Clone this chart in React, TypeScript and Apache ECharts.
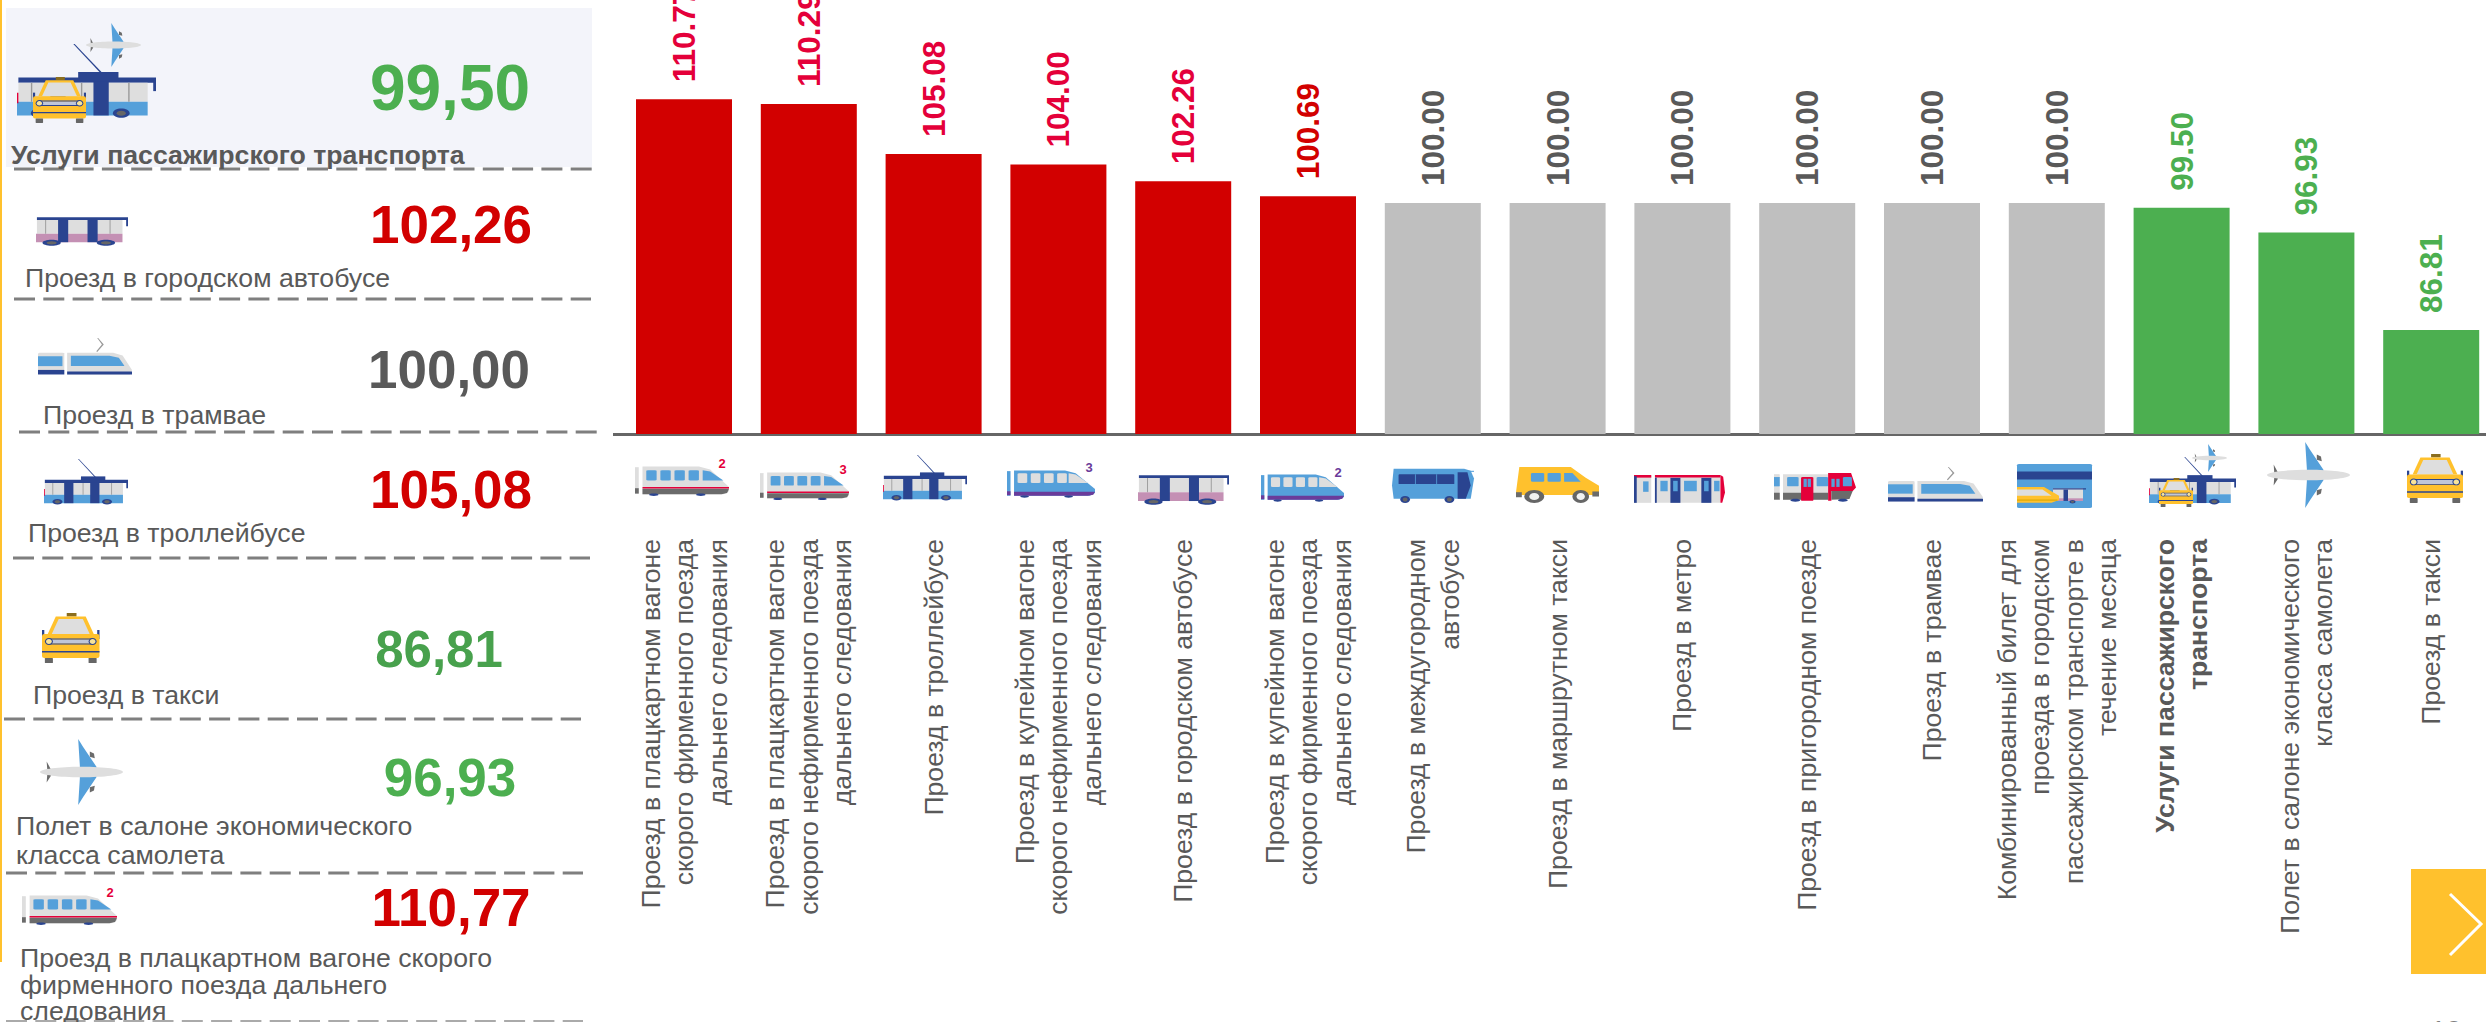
import React, { useEffect, useRef } from "react";
import * as echarts from "echarts";

// ---------- DATA ----------
const categories = [
  "Проезд в плацкартном вагоне\nскорого фирменного поезда\nдальнего следования",
  "Проезд в плацкартном вагоне\nскорого нефирменного поезда\nдальнего следования",
  "Проезд в троллейбусе",
  "Проезд в купейном вагоне\nскорого нефирменного поезда\nдальнего следования",
  "Проезд в городском автобусе",
  "Проезд в купейном вагоне\nскорого фирменного поезда\nдальнего следования",
  "Проезд в междугородном\nавтобусе",
  "Проезд в маршрутном такси",
  "Проезд в метро",
  "Проезд в пригородном поезде",
  "Проезд в трамвае",
  "Комбинированный билет для\nпроезда в городском\nпассажирском транспорте в\nтечение месяца",
  "Услуги пассажирского\nтранспорта",
  "Полет в салоне экономического\nкласса самолета",
  "Проезд в такси",
];
const values = [110.77, 110.29, 105.08, 104.0, 102.26, 100.69, 100, 100, 100, 100, 100, 100, 99.5, 96.93, 86.81];
const boldCategory = "Услуги пассажирского\nтранспорта";

const panelNames = [
  "Услуги пассажирского транспорта",
  "Проезд в городском автобусе",
  "Проезд в трамвае",
  "Проезд в троллейбусе",
  "Проезд в такси",
  "Полет в салоне экономического\nкласса самолета",
  "Проезд в плацкартном вагоне скорого\nфирменного поезда дальнего\nследования",
];
const panelValues = ["99,50", "102,26", "100,00", "105,08", "86,81", "96,93", "110,77"];
const pageNumber = "10";

// ---------- STYLE ----------
const RED = "#D20000";
const GREY = "#BFBFBF";
const GREEN = "#4CAF50";
const TEXT = "#595959";
const LABEL_RED = "#E4003A";
const FONT = '"Liberation Sans", Arial, sans-serif';
const NAVY = "#2A4490";
const BLUE = "#55A0DA";
const LIGHT = "#DEDEDE";
const YELLOW = "#FFC12D";
const DARK = "#6B6B6B";
const PURPLE = "#6A3B9A";
const PINK = "#C490B4";

const barColor = (v: number) => (v > 100 ? RED : v === 100 ? GREY : GREEN);
const labelColor = (v: number, i: number) => (v > 100 ? (i < 5 ? LABEL_RED : RED) : v === 100 ? TEXT : GREEN);

// ---------- ICON PRIMITIVES (unit box 0..100) ----------
const R = (x: number, y: number, w: number, h: number, fill: string, r = 0) => ({
  type: "rect", silent: true, shape: { x, y, width: w, height: h, r }, style: { fill },
});
const P = (points: number[][], fill: string) => ({
  type: "polygon", silent: true, shape: { points }, style: { fill },
});
const E = (cx: number, cy: number, rx: number, ry: number, fill: string) => ({
  type: "ellipse", silent: true, shape: { cx, cy, rx, ry }, style: { fill },
});
const place = (x0: number, y0: number, x1: number, y1: number, children: any[]) => ({
  type: "group", silent: true, x: x0, y: y0, scaleX: (x1 - x0) / 100, scaleY: (y1 - y0) / 100, children,
});

const wheel = (cx: number, cy: number, r: number) => [E(cx, cy, r, r, NAVY), E(cx, cy, r * 0.55, r * 0.55, "#666666")];

const trainRed = (x0: number, y0: number, x1: number, y1: number) =>
  place(x0, y0, x1, y1, [
    R(0, 4, 4, 88, LIGHT),
    R(0, 74, 4, 18, DARK),
    P([[8, 2], [68, 2], [80, 12], [100, 70], [100, 84], [94, 94], [8, 94]], LIGHT),
    P([[8, 76], [100, 76], [98, 90], [92, 94], [8, 94]], DARK),
    R(8, 70, 92, 5, "#E4003A"),
    R(12, 14, 11, 34, BLUE, 2), R(27, 14, 11, 34, BLUE, 2), R(42, 14, 11, 34, BLUE, 2), R(57, 14, 11, 34, BLUE, 2),
    P([[72, 14], [80, 18], [94, 48], [72, 48]], BLUE),
    E(20, 96, 5, 4, NAVY), E(70, 96, 5, 4, NAVY),
  ]);

const trainBlue = (x0: number, y0: number, x1: number, y1: number) =>
  place(x0, y0, x1, y1, [
    R(0, 4, 4, 88, BLUE),
    R(0, 76, 4, 14, PURPLE),
    P([[8, 2], [66, 2], [78, 12], [100, 68], [100, 82], [94, 92], [8, 92]], BLUE),
    P([[8, 78], [100, 78], [98, 88], [92, 92], [8, 92]], PURPLE),
    R(12, 12, 11, 34, LIGHT, 2), R(27, 12, 11, 34, LIGHT, 2), R(42, 12, 11, 34, LIGHT, 2), R(57, 12, 11, 34, LIGHT, 2),
    P([[70, 12], [78, 16], [92, 46], [70, 46]], LIGHT),
    E(20, 95, 5, 4, NAVY), E(70, 95, 5, 4, NAVY),
  ]);

const trolley = (x0: number, y0: number, x1: number, y1: number) =>
  place(x0, y0, x1, y1, [
    P([[40.5, 0], [41.5, 0], [62, 39], [60.5, 39]], NAVY),
    R(44, 37, 29, 8, NAVY),
    R(1, 44, 99, 7, NAVY),
    R(1, 51, 93, 25, LIGHT),
    R(0, 76, 94, 18, BLUE),
    R(0, 64, 1, 14, "#E4003A"),
    R(24, 49, 11, 45, NAVY), R(55, 49, 11, 45, NAVY),
    R(10, 51, 1, 25, "#999999"), R(46, 51, 1, 25, "#999999"), R(80, 51, 1, 25, "#999999"),
    R(98, 46, 2, 16, NAVY),
    ...wheel(16, 91, 6), ...wheel(75, 91, 6),
  ]);

const bus = (x0: number, y0: number, x1: number, y1: number) =>
  place(x0, y0, x1, y1, [
    R(1, 1, 99, 9, NAVY),
    R(1, 10, 93, 46, LIGHT),
    R(0, 56, 94, 28, PINK),
    R(24, 8, 11, 76, NAVY), R(56, 8, 11, 76, NAVY),
    R(10, 10, 1, 46, "#999999"), R(80, 10, 1, 46, "#999999"),
    R(98, 3, 2, 28, NAVY),
    ...wheel(17, 86, 10), ...wheel(76, 86, 10),
  ]);

const taxi = (x0: number, y0: number, x1: number, y1: number) =>
  place(x0, y0, x1, y1, [
    R(43, 0, 17, 7, "#8A6D1E"),
    P([[24, 7], [76, 7], [90, 42], [10, 42]], YELLOW),
    P([[29, 12], [71, 12], [83, 42], [17, 42]], LIGHT),
    R(0, 34, 4, 18, NAVY), R(96, 34, 4, 18, NAVY),
    R(0, 42, 100, 48, YELLOW, 4),
    R(12, 53, 76, 8, "#BFC6D8"), R(12, 51, 76, 2, NAVY), R(12, 61, 76, 2, NAVY),
    E(12, 57, 7, 7, NAVY), E(12, 57, 5, 5, "#F7E39A"), E(88, 57, 7, 7, NAVY), E(88, 57, 5, 5, "#F7E39A"),
    R(0, 76, 100, 3, NAVY),
    R(5, 90, 14, 10, "#666666", 1), R(81, 90, 14, 10, "#666666", 1),
  ]);

const plane = (x0: number, y0: number, x1: number, y1: number) =>
  place(x0, y0, x1, y1, [
    P([[8, 34], [13, 46], [13, 56], [8, 66], [9, 50]], DARK),
    P([[60, 19], [65, 22], [66, 29], [60, 27]], DARK),
    P([[60, 81], [65, 78], [66, 71], [60, 73]], DARK),
    P([[46, 0], [52, 12], [68, 42], [68, 58], [52, 88], [46, 100], [48, 60], [48, 40]], BLUE),
    E(50, 50, 50, 8, LIGHT),
  ]);

const van = (x0: number, y0: number, x1: number, y1: number) =>
  place(x0, y0, x1, y1, [
    P([[4, 0], [66, 0], [84, 30], [100, 52], [100, 78], [0, 78], [0, 70]], YELLOW),
    R(0, 70, 7, 14, DARK),
    R(92, 68, 8, 14, DARK),
    R(18, 17, 16, 24, BLUE, 2), R(38, 17, 16, 24, BLUE, 2),
    P([[58, 17], [68, 17], [78, 41], [58, 41]], BLUE),
    E(22, 82, 12, 18, "#666666"), E(22, 82, 6, 10, "#F2F2F2"),
    E(78, 82, 10, 18, "#666666"), E(78, 82, 5, 10, "#F2F2F2"),
  ]);

const coach = (x0: number, y0: number, x1: number, y1: number) =>
  place(x0, y0, x1, y1, [
    P([[2, 2], [88, 2], [96, 8], [100, 30], [96, 88], [2, 88], [0, 50]], BLUE),
    R(8, 18, 68, 28, NAVY, 1),
    R(28, 18, 1, 28, BLUE), R(54, 18, 1, 28, BLUE),
    P([[80, 12], [92, 12], [96, 50], [90, 88], [80, 88]], NAVY),
    R(90, 8, 10, 3, BLUE),
    E(16, 90, 6, 10, NAVY), E(16, 90, 3, 6, "#666666"),
    E(70, 90, 6, 10, NAVY), E(70, 90, 3, 6, "#666666"),
  ]);

const metro = (x0: number, y0: number, x1: number, y1: number) =>
  place(x0, y0, x1, y1, [
    R(0, 4, 19, 92, LIGHT), R(0, 0, 19, 9, "#E4003A"), R(0, 4, 3, 92, NAVY),
    R(10, 22, 6, 36, BLUE),
    R(23, 4, 72, 92, LIGHT), R(23, 0, 72, 9, "#E4003A"),
    R(23, 9, 2, 87, NAVY),
    R(40, 10, 11, 86, NAVY), R(43, 20, 5, 36, BLUE),
    R(74, 10, 11, 86, NAVY), R(77, 20, 5, 36, BLUE),
    R(29, 20, 8, 36, BLUE), R(55, 20, 14, 36, BLUE),
    R(88, 20, 6, 36, BLUE),
    P([[95, 0], [98, 6], [100, 60], [97, 96], [95, 96]], "#E4003A"),
  ]);

const suburban = (x0: number, y0: number, x1: number, y1: number) =>
  place(x0, y0, x1, y1, [
    R(0, 4, 7, 88, LIGHT), R(0, 68, 7, 24, DARK), R(0, 14, 7, 32, BLUE),
    R(11, 4, 55, 88, LIGHT), R(11, 68, 55, 24, DARK),
    R(16, 14, 14, 32, BLUE, 2), R(52, 14, 14, 32, BLUE, 2),
    R(33, 14, 15, 82, "#E4003A", 2), R(36, 20, 4, 28, BLUE), R(41, 20, 4, 28, BLUE),
    P([[66, 0], [94, 0], [100, 50], [96, 62], [70, 62], [70, 96], [66, 96]], "#E4003A"),
    P([[70, 62], [96, 62], [92, 90], [70, 92]], DARK),
    R(70, 20, 4, 28, BLUE), R(76, 20, 4, 28, BLUE),
    R(84, 14, 11, 32, BLUE, 2),
    E(26, 94, 6, 5, NAVY), E(84, 94, 6, 5, NAVY),
  ]);

const tram = (x0: number, y0: number, x1: number, y1: number) =>
  place(x0, y0, x1, y1, [
    P([[63, 0], [64, 0], [70, 17], [63, 37], [62, 35], [68, 17]], "#9A9A9A"),
    R(0, 39, 28, 48, LIGHT, 2), R(0, 48, 26, 26, BLUE), R(0, 84, 28, 12, NAVY),
    P([[31, 39], [80, 39], [90, 46], [100, 84], [98, 96], [31, 96]], LIGHT),
    P([[35, 47], [76, 47], [86, 52], [92, 74], [35, 74]], BLUE),
    R(31, 88, 69, 8, NAVY),
  ]);

const ticket = (x0: number, y0: number, x1: number, y1: number) =>
  place(x0, y0, x1, y1, [
    R(0, 0, 100, 100, BLUE, 3),
    R(0, 17, 100, 18, NAVY),
    R(48, 55, 40, 28, LIGHT), R(48, 55, 44, 3, NAVY), R(48, 78, 40, 6, PINK),
    R(62, 58, 6, 26, NAVY), ...wheel(74, 86, 4),
    P([[0, 52], [36, 52], [56, 72], [56, 82], [46, 88], [0, 88]], YELLOW),
    P([[0, 58], [34, 58], [46, 72], [0, 72]], LIGHT),
    R(0, 80, 54, 4, "#E8B010"),
  ]);

const composite = (bx: number[], tx: number[], px: number[]) => [
  trolley(bx[0], bx[1], bx[2], bx[3]),
  taxi(tx[0], tx[1], tx[2], tx[3]),
  plane(px[0], px[1], px[2], px[3]),
];

const digit = (text: string, x: number, y: number, fill: string, fontSize = 13) => ({
  type: "text", silent: true, x, y,
  style: { text, fill, font: `bold ${fontSize}px ${FONT}`, textAlign: "center", textVerticalAlign: "middle" },
});

// ---------- LAYOUT OF THE LEFT PANEL ----------
const nameLayout = [
  { x: 11, y: 155, bold: true, lh: 30 },
  { x: 25, y: 278, lh: 30 },
  { x: 43, y: 415, lh: 30 },
  { x: 28, y: 533, lh: 30 },
  { x: 33, y: 695, lh: 30 },
  { x: 16, y: 826, lh: 29 },
  { x: 20, y: 958, lh: 26.5 },
];
const valueLayout = [
  { x: 450, y: 88, size: 64, fill: GREEN },
  { x: 451, y: 224, size: 53, fill: RED },
  { x: 449, y: 369, size: 53, fill: TEXT },
  { x: 451, y: 489, size: 53, fill: RED },
  { x: 439, y: 649, size: 51, fill: "#48A14D" },
  { x: 450, y: 777, size: 53, fill: GREEN },
  { x: 451, y: 907, size: 53, fill: RED },
];
const dashLayout = [
  [14, 592, 169], [14, 591, 299], [19, 597, 432], [13, 590, 558], [4, 581, 719], [6, 583, 873], [6, 583, 1021],
];

const graphics: any[] = [
  { type: "rect", silent: true, shape: { x: 0, y: 0, width: 2, height: 962 }, style: { fill: YELLOW } },
  { type: "rect", silent: true, shape: { x: 6, y: 8, width: 586, height: 159 }, style: { fill: "#F3F4FA" } },
  ...dashLayout.map(([x1, x2, y], i) => ({
    type: "line", silent: true, shape: { x1, y1: y, x2, y2: y },
    style: { stroke: i === 6 ? "#AAAAAA" : "#7F7F7F", lineWidth: i === 6 ? 2 : 3, lineDash: [21, 8.3] },
  })),
  ...panelNames.map((text, i) => {
    const n = nameLayout[i];
    return {
      type: "text", silent: true, x: n.x, y: n.y - n.lh / 2,
      style: {
        text, fill: TEXT, font: `${n.bold ? "bold " : ""}26.7px ${FONT}`, lineHeight: n.lh,
        textAlign: "left", textVerticalAlign: "top",
      },
    };
  }),
  ...panelValues.map((text, i) => {
    const v = valueLayout[i];
    return {
      type: "text", silent: true, x: v.x, y: v.y,
      style: { text, fill: v.fill, font: `bold ${v.size}px ${FONT}`, textAlign: "center", textVerticalAlign: "middle" },
    };
  }),

  // left panel icons
  ...composite([17, 44, 156, 120], [33, 77, 86, 123], [86, 23, 141, 67]),
  bus(36, 217, 128, 247),
  tram(38, 338, 132, 376),
  trolley(44, 459, 128, 506),
  taxi(42, 613, 99.5, 663),
  plane(40, 739, 123, 805),
  trainRed(22, 895, 117, 925),
  digit("2", 110, 892, "#E4003A"),

  // icons under the axis
  trainRed(635, 466, 729, 496), digit("2", 722, 463, "#E4003A"),
  trainRed(760, 472, 849, 500), digit("3", 843, 469, "#E4003A"),
  trolley(883, 455, 967, 502),
  trainBlue(1007, 470, 1095, 498), digit("3", 1089, 467, PURPLE),
  bus(1138, 475, 1229, 506),
  trainBlue(1261, 474, 1344, 502), digit("2", 1338, 472, PURPLE),
  coach(1392, 468, 1474, 503),
  van(1516, 467, 1599, 503),
  metro(1634, 475, 1725, 504),
  suburban(1774, 473, 1856, 502),
  tram(1888, 467, 1983, 503),
  ticket(2017, 464, 2092, 508),
  ...composite([2149, 457, 2236, 506], [2159, 478, 2193, 507], [2192, 444, 2227, 472]),
  plane(2267, 442, 2350, 508),
  taxi(2407, 454, 2463, 503),

  // axis stub left of the first category band
  { type: "rect", silent: true, shape: { x: 613, y: 433, width: 10, height: 3 }, style: { fill: "#666666" } },

  // next-page arrow
  { type: "rect", silent: true, shape: { x: 2411, y: 869, width: 75, height: 105 }, style: { fill: YELLOW } },
  {
    type: "polyline", silent: true,
    shape: { points: [[2450, 894], [2481, 924], [2450, 955]] },
    style: { stroke: "#FFFFFF", lineWidth: 3, fill: "none" },
  },
  {
    type: "text", silent: true, x: 2446, y: 1016,
    style: { text: pageNumber, fill: "#7F7F7F", font: `28px ${FONT}`, textAlign: "center", textVerticalAlign: "top" },
  },
];

export default function App() {
  const ref = useRef<HTMLDivElement>(null);
  useEffect(() => {
    document.body.style.margin = "0";
    const chart = echarts.init(ref.current!, undefined, { renderer: "svg" });
    chart.setOption({
      animation: false,
      backgroundColor: "#FFFFFF",
      textStyle: { fontFamily: FONT },
      grid: { left: 621.6, top: 10.5, width: 1872, height: 423.5, containLabel: false, outerBoundsMode: "none" },
      xAxis: {
        type: "category",
        data: categories.map((value) =>
          value === boldCategory ? { value, textStyle: { fontWeight: "bold" } } : value
        ),
        axisTick: { show: false },
        axisLine: { show: true, lineStyle: { color: "#666666", width: 3 } },
        axisLabel: {
          interval: 0, rotate: 90, margin: 105, color: TEXT, fontSize: 26.6, lineHeight: 33.5,
          fontFamily: FONT, align: "right", verticalAlign: "middle",
        },
      },
      yAxis: { type: "value", min: 76, max: 120, show: false, splitLine: { show: false } },
      series: [
        {
          type: "bar",
          barWidth: 96,
          data: values.map((v, i) => ({
            value: v,
            itemStyle: { color: barColor(v) },
            label: { color: labelColor(v, i) },
          })),
          label: {
            show: true, position: "top", distance: 17, rotate: 90, align: "left", verticalAlign: "middle",
            fontFamily: FONT, fontWeight: "bold", fontSize: 31.5,
            formatter: (p: any) => p.value.toFixed(2),
          },
        },
      ],
      graphic: { elements: graphics },
    });
    return () => chart.dispose();
  }, []);
  return <div ref={ref} style={{ position: "absolute", left: 0, top: 0, width: 2486, height: 1022, overflow: "hidden" }} />;
}
